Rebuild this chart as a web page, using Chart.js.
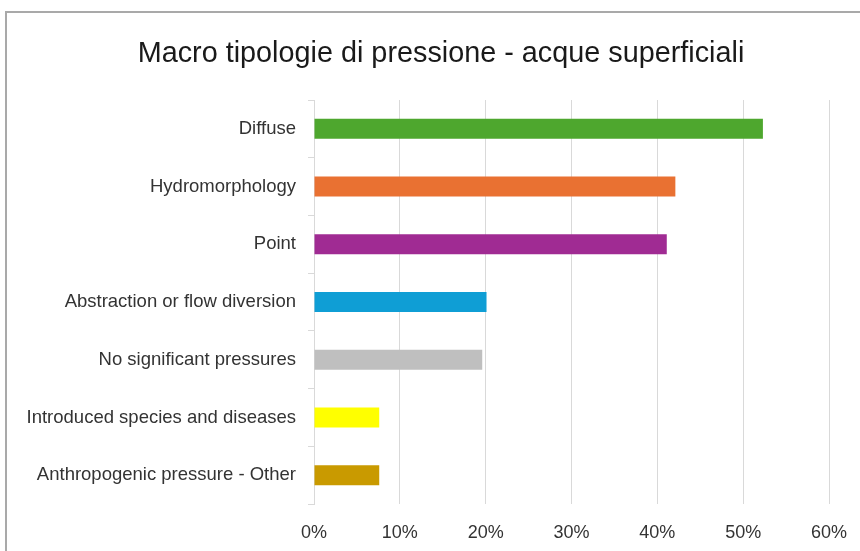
<!DOCTYPE html>
<html>
<head>
<meta charset="utf-8">
<script src="https://cdn.jsdelivr.net/npm/chart.js@4/dist/chart.umd.min.js"></script>
<style>
    body { margin: 0; background: #ffffff; overflow: hidden; }
    #wrap { position: relative; width: 860px; height: 551px; }
    #frame {
        position: absolute; left: 5px; top: 11px; width: 900px; height: 600px;
        border-top: 2px solid #a9a9a9; border-left: 2px solid #a9a9a9;
    }
    #chart { position: absolute; left: 0; top: 0; }
</style>
</head>
<body>
<div id="wrap">
    <div id="frame"></div>
    <canvas id="chart" width="860" height="551"></canvas>
</div>
<script>
// ===== DATA =====
const chartTitle = 'Macro tipologie di pressione - acque superficiali';
const categories = [
    'Diffuse',
    'Hydromorphology',
    'Point',
    'Abstraction or flow diversion',
    'No significant pressures',
    'Introduced species and diseases',
    'Anthropogenic pressure - Other'
];
const shares = [52.3, 42.1, 41.1, 20.1, 19.6, 7.6, 7.6];   // percent
const barColors = ['#4ea72e', '#e97132', '#a02b93', '#0f9ed5', '#bfbfbf', '#ffff00', '#c99a00'];
const xTicks = [0, 10, 20, 30, 40, 50, 60];

// titolo centrato sul riquadro originale
const titlePlugin = {
    id: 'titleText',
    afterDraw(chart) {
        const ctx = chart.ctx;
        ctx.save();
        ctx.font = '28.8px "Liberation Sans", Arial, sans-serif';
        ctx.fillStyle = '#1a1a1a';
        ctx.textAlign = 'center';
        ctx.textBaseline = 'alphabetic';
        ctx.fillText(chartTitle, 441, 62);
        ctx.restore();
    }
};

const labelFont = { family: '"Liberation Sans", Arial, sans-serif', size: 18.5 };

new Chart(document.getElementById('chart'), {
    type: 'bar',
    data: {
        labels: categories,
        datasets: [{
            data: shares,
            backgroundColor: barColors,
            borderWidth: 0,
            categoryPercentage: 1,
            barPercentage: 0.347
        }]
    },
    options: {
        indexAxis: 'y',
        responsive: false,
        animation: false,
        layout: { padding: { top: 100, right: 31, bottom: 0, left: 0 } },
        scales: {
            x: {
                min: 0,
                max: 60,
                afterBuildTicks: function(scale) {
                    scale.ticks = xTicks.map(v => ({ value: v }));
                },
                afterFit: function(scale) {
                    scale.height = 47;
                    // niente padding extra ai lati, basta quello del layout
                    scale.paddingLeft = 0;
                    scale.paddingRight = 0;
                },
                ticks: {
                    color: '#333333',
                    font: { family: labelFont.family, size: 18 },
                    padding: 18,
                    maxRotation: 0,
                    callback: v => v + '%'
                },
                grid: { color: '#d9d9d9', drawTicks: false },
                border: { display: false }
            },
            y: {
                afterFit: function(scale) { scale.width = 314; },
                ticks: {
                    color: '#333333',
                    font: labelFont,
                    padding: 12
                },
                grid: { drawOnChartArea: false, tickLength: 6, color: '#d9d9d9', offset: true },
                border: { color: '#d9d9d9' }
            }
        },
        plugins: {
            legend: { display: false },
            tooltip: { enabled: false }
        }
    },
    plugins: [titlePlugin]
});
</script>
</body>
</html>
